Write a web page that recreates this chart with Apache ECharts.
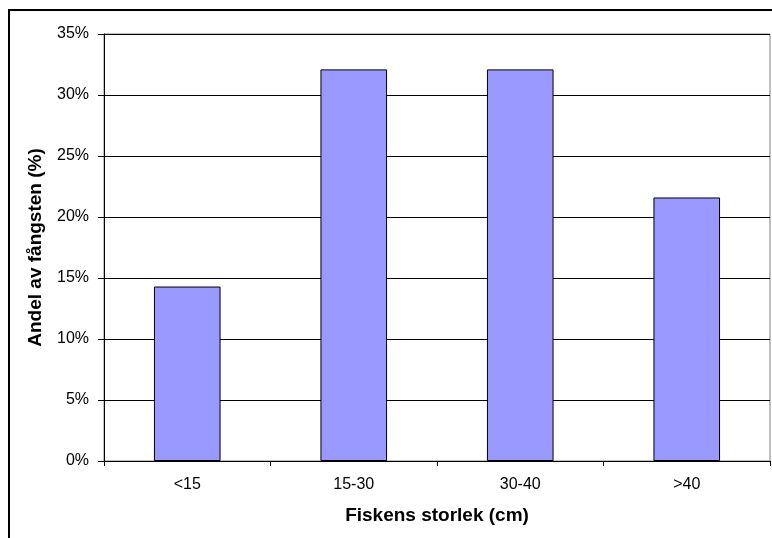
<!DOCTYPE html>
<html>
<head>
<meta charset="utf-8">
<script src="https://cdn.jsdelivr.net/npm/echarts@6/dist/echarts.min.js"></script>
<style>
  html, body { margin: 0; padding: 0; background: #fff; }
  #chart { width: 772px; height: 538px; }
</style>
</head>
<body>
<div id="chart"></div>
<script>
// storleksklasser och andel av fångsten (%)
let categories = ['<15', '15-30', '30-40', '>40'];
let shares     = [14.3, 32.1, 32.1, 21.6];
let yTicks     = [0, 5, 10, 15, 20, 25, 30, 35];

let chart = echarts.init(document.getElementById('chart'), null, {renderer: 'canvas'});
let font = 'Liberation Sans, Arial, sans-serif';

let option = {
    animation: false,
    backgroundColor: '#fff',
    grid: {left: 104, top: 34, right: 2, bottom: 77, show: true,
           borderColor: '#808080', borderWidth: 1, backgroundColor: 'transparent'},
    graphic: [{
        type: 'rect',
        shape: {x: 9, y: 10, width: 900, height: 700},
        style: {fill: 'none', stroke: '#000', lineWidth: 2},
        silent: true, z: -1
    }],
    xAxis: {
        type: 'category',
        data: categories,
        name: 'Fiskens storlek (cm)',
        nameLocation: 'middle',
        nameGap: 45,
        nameTextStyle: {fontFamily: font, fontSize: 19, fontWeight: 'bold', color: '#000'},
        axisLine: {lineStyle: {color: '#000', width: 1}},
        axisTick: {show: true, length: 5, lineStyle: {color: '#000'}},
        axisLabel: {fontFamily: font, fontSize: 16, color: '#000', margin: 16},
        splitLine: {show: false}
    },
    yAxis: {
        type: 'value',
        min: yTicks[0],
        max: yTicks[yTicks.length - 1],
        interval: 5,
        name: 'Andel av fångsten (%)',
        nameLocation: 'middle',
        nameGap: 59,
        nameTextStyle: {fontFamily: font, fontSize: 19, fontWeight: 'bold', color: '#000'},
        axisLine: {show: true, lineStyle: {color: '#000', width: 1}},
        axisTick: {show: true, length: 6, lineStyle: {color: '#000'}},
        axisLabel: {fontFamily: font, fontSize: 16, color: '#000', margin: 15,
                    formatter: v => v + '%'},
        splitLine: {show: true, lineStyle: {color: '#000', width: 1}}
    },
    series: [{
        type: 'bar',
        data: shares,
        barWidth: '40%',
        itemStyle: {color: '#9999FF', borderColor: '#000', borderWidth: 1}
    }]
};

chart.setOption(option);
</script>
</body>
</html>
